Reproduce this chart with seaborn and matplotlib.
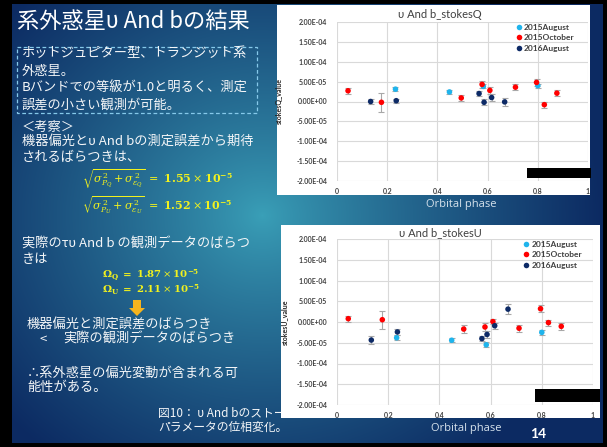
import numpy as np
import pandas as pd
import matplotlib
matplotlib.use("Agg")
import matplotlib.pyplot as plt
import seaborn as sns
from matplotlib.patches import Rectangle, Polygon
from matplotlib.ticker import FuncFormatter

# ---- observing runs ----
runs = ["2015August", "2015October", "2016August"]
run_colors = ["#1fb4ec", "#ff0000", "#0d2a66"]

# orbital phase of each observation
phase_aug15 = [0.233, 0.448, 0.583, 0.800]
phase_oct15 = [0.044, 0.177, 0.495, 0.578, 0.609, 0.711, 0.795, 0.826, 0.876]
phase_aug16 = [0.134, 0.236, 0.566, 0.586, 0.616, 0.668]

# Stokes Q and its errors
q_aug15 = [3.1e-5, 2.4e-5, 3.8e-5, 4.0e-5]
q_oct15 = [2.7e-5, -0.2e-5, 0.9e-5, 4.3e-5, 2.8e-5, 3.6e-5, 4.8e-5, -0.8e-5, 2.1e-5]
q_aug16 = [0.0, 0.2e-5, 2.0e-5, -0.2e-5, 1.0e-5, -0.1e-5]
qerr_aug15 = [0.5e-5, 0.5e-5, 0.5e-5, 0.5e-5]
qerr_oct15 = [0.7e-5, 2.4e-5, 0.8e-5, 0.9e-5, 0.8e-5, 0.8e-5, 0.8e-5, 0.8e-5, 0.8e-5]
qerr_aug16 = [0.7e-5, 0.5e-5, 0.6e-5, 0.8e-5, 0.8e-5, 1.1e-5]

# Stokes U and its errors
u_aug15 = [-3.8e-5, -4.4e-5, -5.5e-5, -2.5e-5]
u_oct15 = [0.8e-5, 0.55e-5, -1.7e-5, -1.2e-5, 0.1e-5, -1.5e-5, 3.2e-5, -0.15e-5, -1.05e-5]
u_aug16 = [-4.35e-5, -2.4e-5, -4.0e-5, -3.0e-5, -0.9e-5, 3.1e-5]
uerr_aug15 = [0.6e-5, 0.5e-5, 0.6e-5, 0.6e-5]
uerr_oct15 = [0.7e-5, 2.2e-5, 0.9e-5, 0.9e-5, 0.6e-5, 0.8e-5, 0.9e-5, 0.7e-5, 0.8e-5]
uerr_aug16 = [0.9e-5, 0.8e-5, 0.6e-5, 0.8e-5, 0.7e-5, 1.2e-5]

x_ticks = [0, 0.2, 0.4, 0.6, 0.8, 1]
y_ticks = [-2.0e-4, -1.5e-4, -1.0e-4, -5.0e-5, 0.0, 5.0e-5, 1.0e-4, 1.5e-4, 2.0e-4]


def frame(values, errors):
    rows = []
    for run, ph, val, err in zip(runs, [phase_aug15, phase_oct15, phase_aug16], values, errors):
        for p, v, e in zip(ph, val, err):
            rows.append({"run": run, "phase": p, "value": v, "err": e})
    return pd.DataFrame(rows)


df_q = frame([q_aug15, q_oct15, q_aug16], [qerr_aug15, qerr_oct15, qerr_aug16])
df_u = frame([u_aug15, u_oct15, u_aug16], [uerr_aug15, uerr_oct15, uerr_aug16])

sns.set_style("white")
plt.rcParams["font.family"] = ["Noto Sans CJK JP", "DejaVu Sans"]
plt.rcParams["mathtext.fontset"] = "dejavuserif"

W, H = 607, 447
fig = plt.figure(figsize=(W / 100, H / 100), dpi=100)

# ---- slide background ----
bg = fig.add_axes([0, 0, 1, 1])
yy, xx = np.mgrid[0:H, 0:W]
d = np.sqrt((xx - 262.0) ** 2 + ((yy - 215.0) / 0.9) ** 2)
t = np.clip(d / 340.0, 0, 1) ** 0.85
inner = np.array([0x3a, 0xa0, 0xb8]) / 255
outer = np.array([0x0c, 0x2a, 0x62]) / 255
img = inner * (1 - t[..., None]) + outer * t[..., None]
border = (xx < 12) | (xx >= 603) | (yy < 4) | (yy >= 443)
img[border] = 0
bg.imshow(img, extent=(0, W, H, 0), aspect="auto", zorder=0, interpolation="bilinear")
bg.set_xlim(0, W)
bg.set_ylim(H, 0)
bg.axis("off")

cjk = ["Noto Sans CJK JP", "DejaVu Sans"]
white = "#f4f6f8"
yellow = "#f2f21e"

bg.text(17, 21, "系外惑星υ And bの結果", color="white", fontsize=16, family=cjk,
        va="center", ha="left", zorder=3)

bg.add_patch(Rectangle((17, 47), 240, 66, fill=False, ec="#86c9ea", lw=0.9,
                       ls=(0, (3, 2)), zorder=3))
box_lines = ["ホットジュピター型、トランジット系", "外惑星。",
             "Bバンドでの等級が1.0と明るく、測定", "誤差の小さい観測が可能。"]
for i, s in enumerate(box_lines):
    bg.text(22, 54 + 17 * i, s, color=white, fontsize=9.5, family=cjk, va="center", zorder=3)

bg.text(22, 127, "＜考察＞", color=white, fontsize=9.5, family=cjk, va="center", zorder=3)
bg.text(22, 142, "機器偏光とυ And bの測定誤差から期待", color=white, fontsize=9.5,
        family=cjk, va="center", zorder=3)
bg.text(22, 157, "されるばらつきは、", color=white, fontsize=9.5, family=cjk, va="center", zorder=3)

bg.text(82, 179, r"$\sqrt{\sigma_{P_Q}^{\,2}+\sigma_{\varepsilon_Q}^{\,2}}\ =\ \mathbf{1.55}\times\mathbf{10^{-5}}$",
        color=yellow, fontsize=8, va="center", zorder=3)
bg.text(82, 205, r"$\sqrt{\sigma_{P_U}^{\,2}+\sigma_{\varepsilon_U}^{\,2}}\ =\ \mathbf{1.52}\times\mathbf{10^{-5}}$",
        color=yellow, fontsize=8, va="center", zorder=3)

bg.text(22, 244, "実際のτυ And b の観測データのばらつ", color=white, fontsize=9.5,
        family=cjk, va="center", zorder=3)
bg.text(22, 260, "きは", color=white, fontsize=9.5, family=cjk, va="center", zorder=3)
bg.text(102, 275, r"$\mathbf{\Omega_Q\ =\ 1.87}\times\mathbf{10^{-5}}$", color=yellow,
        fontsize=7.3, va="center", zorder=3)
bg.text(102, 290, r"$\mathbf{\Omega_U\ =\ 2.11}\times\mathbf{10^{-5}}$", color=yellow,
        fontsize=7.3, va="center", zorder=3)

bg.add_patch(Polygon([(133, 300), (141, 300), (141, 308), (145, 308), (137, 316),
                      (129, 308), (133, 308)], closed=True, fc="#f5b41e", ec="none", zorder=3))

bg.text(27, 325, "機器偏光と測定誤差のばらつき", color=white, fontsize=9.5, family=cjk,
        va="center", zorder=3)
bg.text(40, 339, "<", color=white, fontsize=9.5, family=cjk, va="center", zorder=3)
bg.text(63, 339, "実際の観測データのばらつき", color=white, fontsize=9.5, family=cjk,
        va="center", zorder=3)
bg.text(27, 373, "∴系外惑星の偏光変動が含まれる可", color=white, fontsize=9.5, family=cjk,
        va="center", zorder=3)
bg.text(27, 388, "能性がある。", color=white, fontsize=9.5, family=cjk, va="center", zorder=3)
bg.text(158, 413, "図10： υ And bのストー", color=white, fontsize=8.5, family=cjk,
        va="center", zorder=3)
bg.text(158, 427, "パラメータの位相変化。", color=white, fontsize=8.5, family=cjk,
        va="center", zorder=3)

# chart backgrounds
bg.add_patch(Rectangle((277, 5), 313, 190, fc="white", ec="none", zorder=5))
bg.add_patch(Rectangle((281, 225), 319, 193, fc="white", ec="none", zorder=5))

latin = ["Lato", "DejaVu Sans"]
bg.text(440, 15, "υ And b_stokesQ", color="#404040", fontsize=8, family=latin,
        ha="center", va="center", zorder=6)
bg.text(440, 233, "υ And b_stokesU", color="#404040", fontsize=8, family=latin,
        ha="center", va="center", zorder=6)
bg.text(461, 204, "Orbital phase", color="#d6e2ec", fontsize=8, family=["Open Sans", "DejaVu Sans"],
        ha="center", va="center", zorder=3)
bg.text(466, 429, "Orbital phase", color="#d6e2ec", fontsize=8, family=["Open Sans", "DejaVu Sans"],
        ha="center", va="center", zorder=3)
bg.text(538, 434, "14", color="white", fontsize=10, fontweight="bold", family=latin,
        ha="center", va="center", zorder=3)


def px_axes(x0, x1, y0, y1):
    return fig.add_axes([x0 / W, (H - y1) / H, (x1 - x0) / W, (y1 - y0) / H])


def stokes_panel(ax, df, ylabel, label_x, legend_x):
    for run, color in zip(runs, run_colors):
        sub = df[df["run"] == run]
        ax.errorbar(sub["phase"], sub["value"], yerr=sub["err"], fmt="none",
                    ecolor="#a8a8a8", elinewidth=0.8, capsize=2.5, capthick=0.8, zorder=2)
    sns.scatterplot(data=df, x="phase", y="value", hue="run", hue_order=runs,
                    palette=dict(zip(runs, run_colors)), s=16, linewidth=0,
                    ax=ax, zorder=3)
    ax.set_facecolor("white")
    ax.set_xlim(0, 1)
    ax.set_ylim(-2.0e-4, 2.0e-4)
    ax.set_xticks(x_ticks)
    ax.set_yticks(y_ticks)
    ax.xaxis.set_major_formatter(FuncFormatter(lambda v, p: f"{v:g}"))
    ax.yaxis.set_major_formatter(FuncFormatter(lambda v, p: f"{v:.2E}"))
    ax.grid(True, color="#d9d9d9", lw=0.8)
    ax.set_axisbelow(True)
    for sp in ax.spines.values():
        sp.set_visible(False)
    ax.tick_params(length=0, labelsize=5, labelcolor="#404040")
    ax.tick_params(axis="x", pad=5)
    ax.tick_params(axis="y", pad=7)
    for lab in ax.get_xticklabels() + ax.get_yticklabels():
        lab.set_fontweight("bold")
        lab.set_family(latin)
    ax.set_xlabel("")
    ax.set_ylabel(ylabel, fontsize=5, fontweight="bold", color="#262626", family=latin)
    ax.yaxis.set_label_coords(label_x, 0.5)
    sns.move_legend(ax, "upper left", bbox_to_anchor=(legend_x, 0.99), frameon=False,
                    title=None, prop={"family": latin, "weight": "bold", "size": 6},
                    handletextpad=0.1, labelspacing=0.45, borderpad=0, handlelength=1.0,
                    borderaxespad=0)
    for txt in ax.get_legend().get_texts():
        txt.set_color("#404040")


ax_q = px_axes(337, 588, 22, 181)
stokes_panel(ax_q, df_q, "stokesQ_value", -0.215, 0.709)
ax_u = px_axes(337, 593, 239, 405)
stokes_panel(ax_u, df_u, "stokesU_value", -0.19, 0.723)

# black boxes over the lower-right corners of both charts
top = fig.add_axes([0, 0, 1, 1], zorder=10)
top.set_xlim(0, W)
top.set_ylim(H, 0)
top.axis("off")
top.patch.set_alpha(0)
top.add_patch(Rectangle((527, 168), 64, 10, fc="black", ec="none"))
top.add_patch(Rectangle((535, 389), 65, 13, fc="black", ec="none"))

fig.savefig("out.png", dpi=100)
